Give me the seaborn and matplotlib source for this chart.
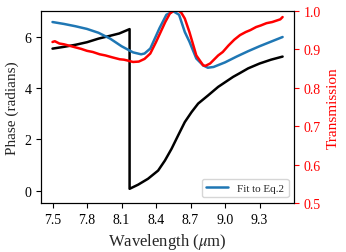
import numpy as np
import pandas as pd
import matplotlib
matplotlib.use("Agg")
import matplotlib.pyplot as plt
import seaborn as sns

# phase (left axis)
phase_wl = [7.5, 7.6, 7.7, 7.8, 7.9, 8.0, 8.08, 8.17, 8.17, 8.244, 8.33, 8.418,
            8.477, 8.535, 8.592, 8.65, 8.709, 8.766, 8.853, 8.94, 9.07, 9.13,
            9.2, 9.30, 9.40, 9.5]
phase_val = [5.53, 5.6, 5.68, 5.78, 5.92, 6.03, 6.12, 6.29, 0.07, 0.23, 0.46, 0.78,
             1.17, 1.63, 2.15, 2.67, 3.06, 3.39, 3.71, 4.04, 4.43, 4.58,
             4.76, 4.95, 5.1, 5.22]

# fit to Eq.2 (right axis)
fit_wl = [7.5, 7.6, 7.7, 7.8, 7.9, 8.0, 8.1, 8.2, 8.27, 8.3, 8.35, 8.4, 8.43,
          8.49, 8.55, 8.6, 8.65, 8.69, 8.75, 8.81, 8.85, 8.9, 9.0, 9.1, 9.2,
          9.3, 9.4, 9.5]
fit_val = [0.971, 0.966, 0.960, 0.953, 0.943, 0.928, 0.908, 0.892, 0.887, 0.889,
           0.902, 0.935, 0.955, 0.99, 0.999, 0.99, 0.945, 0.92, 0.876, 0.858,
           0.852, 0.854, 0.866, 0.881, 0.895, 0.908, 0.92, 0.932]

# measured transmission (right axis)
trans_wl = [7.5, 7.52, 7.56, 7.6, 7.65, 7.7, 7.75, 7.8, 7.85, 7.91, 7.96, 8.02,
            8.085, 8.12, 8.15, 8.2, 8.25, 8.3, 8.35, 8.4, 8.44, 8.48, 8.52,
            8.56, 8.59, 8.62, 8.65, 8.69, 8.75, 8.81, 8.83, 8.87, 8.94, 8.98,
            9.03, 9.08, 9.13, 9.18, 9.22, 9.27, 9.31, 9.36, 9.41, 9.45, 9.48, 9.5]
trans_val = [0.919, 0.921, 0.915, 0.913, 0.909, 0.905, 0.901, 0.896, 0.893, 0.887,
             0.884, 0.879, 0.874, 0.873, 0.871, 0.867, 0.868, 0.875, 0.889, 0.919,
             0.945, 0.971, 0.993, 1.002, 1.002, 0.995, 0.98, 0.945, 0.884, 0.858,
             0.857, 0.863, 0.884, 0.893, 0.91, 0.925, 0.937, 0.945, 0.95, 0.958,
             0.962, 0.968, 0.971, 0.975, 0.978, 0.984]

sns.set_style("ticks")
plt.rcParams["font.family"] = ["Liberation Serif", "DejaVu Serif"]
plt.rcParams["mathtext.fontset"] = "stix"
plt.rcParams["axes.edgecolor"] = "black"
plt.rcParams["xtick.color"] = "black"
plt.rcParams["ytick.color"] = "black"

phase_df = pd.DataFrame({"wl": phase_wl, "phase": phase_val})
fit_df = pd.DataFrame({"wl": fit_wl, "T": fit_val})
trans_df = pd.DataFrame({"wl": trans_wl, "T": trans_val})

fig = plt.figure(figsize=(3.46, 2.53), dpi=100)
ax = fig.add_axes([0.1185, 0.194, 0.7315, 0.759])
ax2 = ax.twinx()

sns.lineplot(data=phase_df, x="wl", y="phase", color="black", lw=1.8,
             sort=False, estimator=None, ax=ax)
sns.lineplot(data=fit_df, x="wl", y="T", color="#1f77b4", lw=1.8,
             sort=False, estimator=None, ax=ax2, label="Fit to Eq.2")
sns.lineplot(data=trans_df, x="wl", y="T", color="red", lw=1.8,
             sort=False, estimator=None, ax=ax2)

ax.set_xlim(7.4, 9.6)
ax.set_ylim(-0.48, 7.0)
ax2.set_ylim(0.5, 1.0)
ax.set_xticks([7.5, 7.8, 8.1, 8.4, 8.7, 9.0, 9.3])
ax.set_yticks([0, 2, 4, 6])
ax2.set_yticks([0.5, 0.6, 0.7, 0.8, 0.9, 1.0])
ax.tick_params(labelsize=10)
ax2.tick_params(axis="y", colors="red", labelsize=10)
ax2.spines["right"].set_color("black")

ax.set_xlabel(r"Wavelength ($\mu$m)", fontsize=12)
ax.set_ylabel("Phase (radians)", fontsize=11)
ax2.set_ylabel("Transmission", fontsize=11, color="red")

ax2.legend(loc="lower right", fontsize=8)

fig.savefig("out.png", dpi=100)
